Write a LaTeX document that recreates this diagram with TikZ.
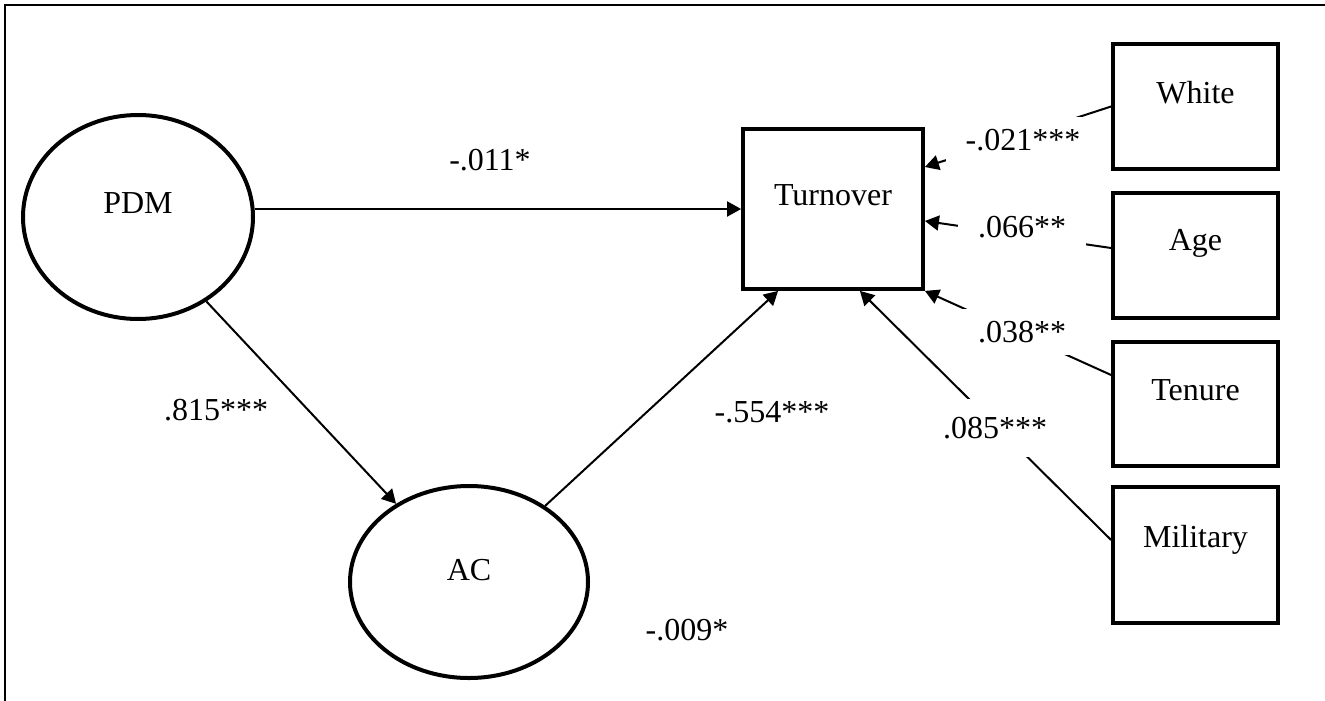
\documentclass[tikz,border=0pt]{standalone}
\usepackage{fontspec}
\setmainfont{Liberation Serif}
\usetikzlibrary{shapes.geometric,arrows.meta}
\begin{document}
\begin{tikzpicture}[x=0.5pt,y=-0.5pt,
  font=\fontsize{16}{19}\selectfont,
  latent/.style={draw,ellipse,line width=2pt,inner sep=0pt},
  obsbox/.style={draw,rectangle,line width=1.9pt,inner sep=0pt,minimum width=82.5pt},
  arr/.style={line width=1pt,-{Triangle[length=7pt,width=7.5pt]}},
  coef/.style={fill=white,inner xsep=10pt,inner ysep=6pt},
  plain/.style={inner sep=2pt}]
\useasboundingbox (0,0) rectangle (1325,700);
\clip (0,0) rectangle (1325,700);
% frame
\draw[line width=1.2pt] (5,720) -- (5,5) -- (1340,5);
% nodes
\node[latent,minimum width=115pt,minimum height=102pt,label={[yshift=7pt]center:PDM}] (pdm) at (138,217) {};
\node[latent,minimum width=119pt,minimum height=96pt,label={[yshift=6pt]center:AC}] (ac) at (469,582) {};
\node[obsbox,minimum width=90pt,minimum height=80pt,label={[yshift=7pt]center:Turnover}] (turn) at (833,209) {};
\node[obsbox,minimum height=62.5pt,label={[yshift=7pt]center:White}] (white) at (1195.5,106.5) {};
\node[obsbox,minimum height=62.5pt,label={[yshift=6pt]center:Age}] (age) at (1195.5,255.5) {};
\node[obsbox,minimum height=62pt,label={[yshift=7pt]center:Tenure}] (tenure) at (1195.5,404) {};
\node[obsbox,minimum height=68pt,label={[yshift=7.5pt]center:Military}] (mil) at (1195.5,555) {};
% connectors
\draw[arr] (pdm.east |- turn.west) -- (turn.west);
\draw[arr] (pdm.-51) -- (ac.133);
\draw[arr] (ac.45) -- ([xshift=18.5pt]turn.south west);
\draw[arr] ([yshift=7.5pt]mil.west) -- ([xshift=-32.5pt]turn.south east);
\draw[arr] ([yshift=14.5pt]tenure.west) -- (turn.south east);
\draw[arr] ([yshift=3.75pt]age.west) -- ([yshift=-6pt]turn.east);
\draw[arr] (white.west) -- ([yshift=21pt]turn.east);
% coefficients
\node[plain] (c1) at (490,160) {-.011*};
\node[plain] (c2) at (216,410) {.815***};
\node[plain] (c3) at (772,412) {-.554***};
\node[plain] (c4) at (687,630) {-.009*};
\node[coef] (c5) at (1023,140) {-.021***};
\node[coef] (c6) at (1022,227) {.066**};
\node[coef] (c7) at (1022,332) {.038**};
\node[coef,inner ysep=9pt] (c8) at (995,428) {.085***};
\end{tikzpicture}
\end{document}
